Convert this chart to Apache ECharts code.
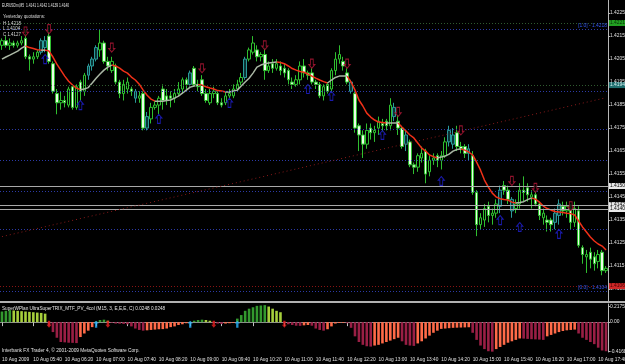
<!DOCTYPE html>
<html><head><meta charset="utf-8">
<script src="https://cdn.jsdelivr.net/npm/echarts@6/dist/echarts.min.js"></script>
<style>html,body{margin:0;padding:0;background:#000;overflow:hidden}#c{width:625px;height:364px}</style>
</head><body><div id="c"></div>
<script>
// ---------- DATA ----------
const times = [];
for (let i = 0; i < 155; i++) { const m = 300 + 5 * i; times.push(String(Math.floor(m / 60)).padStart(2, '0') + ':' + String(m % 60).padStart(2, '0')); }

const open  = [1.4211,1.4213,1.4211,1.4212,1.4211,1.4212,1.4214,1.4206,1.4205,1.4206,1.4208,1.4213,1.4215,1.4203,1.4190,1.4186,1.4187,1.4185,1.4193,1.4184,1.4195,1.4191,1.4198,1.4202,1.4205,1.4209,1.4212,1.4204,1.4200,1.4202,1.4195,1.4190,1.4192,1.4192,1.4191,1.4188,1.4190,1.4175,1.4179,1.4184,1.4185,1.4192,1.4189,1.4189,1.4188,1.4190,1.4192,1.4196,1.4194,1.4201,1.4194,1.4196,1.4190,1.4186,1.4190,1.4190,1.4186,1.4186,1.4189,1.4189,1.4192,1.4195,1.4197,1.4205,1.4208,1.4209,1.4206,1.4207,1.4200,1.4203,1.4201,1.4202,1.4201,1.4200,1.4195,1.4194,1.4196,1.4202,1.4199,1.4199,1.4195,1.4194,1.4189,1.4194,1.4192,1.4200,1.4205,1.4204,1.4199,1.4195,1.4190,1.4176,1.4172,1.4168,1.4175,1.4173,1.4175,1.4177,1.4178,1.4176,1.4184,1.4178,1.4175,1.4168,1.4169,1.4159,1.4158,1.4162,1.4165,1.4156,1.4161,1.4163,1.4161,1.4163,1.4169,1.4172,1.4173,1.4167,1.4167,1.4164,1.4163,1.4147,1.4133,1.4135,1.4141,1.4137,1.4138,1.4141,1.4150,1.4148,1.4144,1.4140,1.4142,1.4148,1.4149,1.4145,1.4146,1.4142,1.4136,1.4135,1.4135,1.4134,1.4137,1.4141,1.4139,1.4140,1.4134,1.4139,1.4123,1.4119,1.4121,1.4119,1.4117,1.4121,1.4113];
const close = [1.4213,1.4211,1.4212,1.4211,1.4212,1.4213,1.4206,1.4205,1.4206,1.4208,1.4213,1.4210,1.4204,1.4191,1.4186,1.4187,1.4186,1.4192,1.4184,1.4193,1.4191,1.4198,1.4202,1.4205,1.4210,1.4212,1.4204,1.4202,1.4204,1.4195,1.4190,1.4194,1.4195,1.4191,1.4188,1.4189,1.4175,1.4180,1.4184,1.4185,1.4188,1.4187,1.4187,1.4188,1.4190,1.4192,1.4196,1.4194,1.4199,1.4194,1.4193,1.4190,1.4187,1.4190,1.4191,1.4186,1.4185,1.4189,1.4190,1.4192,1.4194,1.4197,1.4205,1.4209,1.4212,1.4206,1.4207,1.4200,1.4202,1.4201,1.4203,1.4200,1.4199,1.4196,1.4194,1.4196,1.4202,1.4199,1.4198,1.4195,1.4194,1.4189,1.4193,1.4191,1.4200,1.4205,1.4207,1.4202,1.4195,1.4191,1.4175,1.4172,1.4168,1.4174,1.4173,1.4174,1.4178,1.4176,1.4176,1.4185,1.4180,1.4175,1.4167,1.4172,1.4159,1.4158,1.4163,1.4164,1.4155,1.4161,1.4162,1.4161,1.4163,1.4169,1.4174,1.4168,1.4167,1.4166,1.4164,1.4166,1.4147,1.4133,1.4136,1.4140,1.4137,1.4138,1.4142,1.4148,1.4148,1.4144,1.4139,1.4142,1.4148,1.4147,1.4146,1.4146,1.4142,1.4137,1.4138,1.4134,1.4133,1.4138,1.4142,1.4139,1.4141,1.4134,1.4140,1.4124,1.4120,1.4120,1.4118,1.4116,1.4120,1.4113,1.4114];
const low   = [1.4209,1.4210,1.4209,1.4210,1.4210,1.4211,1.4205,1.4200,1.4203,1.4205,1.4207,1.4208,1.4203,1.4190,1.4181,1.4183,1.4184,1.4184,1.4183,1.4183,1.4187,1.4189,1.4196,1.4200,1.4204,1.4206,1.4203,1.4200,1.4199,1.4194,1.4188,1.4187,1.4190,1.4189,1.4186,1.4186,1.4174,1.4174,1.4177,1.4183,1.4181,1.4183,1.4185,1.4184,1.4186,1.4189,1.4190,1.4192,1.4193,1.4193,1.4191,1.4189,1.4186,1.4185,1.4188,1.4185,1.4184,1.4185,1.4188,1.4188,1.4191,1.4193,1.4196,1.4204,1.4207,1.4204,1.4204,1.4196,1.4199,1.4199,1.4200,1.4198,1.4197,1.4194,1.4192,1.4193,1.4194,1.4197,1.4196,1.4194,1.4192,1.4188,1.4187,1.4190,1.4190,1.4198,1.4203,1.4200,1.4194,1.4190,1.4173,1.4165,1.4162,1.4166,1.4170,1.4169,1.4172,1.4173,1.4174,1.4174,1.4178,1.4172,1.4166,1.4165,1.4158,1.4155,1.4156,1.4160,1.4151,1.4154,1.4159,1.4158,1.4157,1.4162,1.4167,1.4166,1.4165,1.4164,1.4162,1.4161,1.4146,1.4128,1.4131,1.4132,1.4134,1.4133,1.4136,1.4138,1.4146,1.4142,1.4136,1.4138,1.4140,1.4143,1.4143,1.4140,1.4141,1.4135,1.4133,1.4130,1.4130,1.4131,1.4133,1.4137,1.4136,1.4131,1.4132,1.4123,1.4116,1.4112,1.4114,1.4113,1.4114,1.4111,1.4112];
const high  = [1.4214,1.4215,1.4214,1.4213,1.4213,1.4215,1.4218,1.4207,1.4208,1.4209,1.4214,1.4215,1.4219,1.4204,1.4192,1.4191,1.4189,1.4193,1.4194,1.4194,1.4196,1.4199,1.4203,1.4206,1.4211,1.4218,1.4213,1.4206,1.4206,1.4203,1.4196,1.4196,1.4197,1.4193,1.4192,1.4191,1.4191,1.4182,1.4186,1.4187,1.4189,1.4194,1.4192,1.4191,1.4192,1.4195,1.4197,1.4197,1.4200,1.4202,1.4196,1.4198,1.4192,1.4192,1.4193,1.4191,1.4188,1.4191,1.4192,1.4194,1.4196,1.4199,1.4206,1.4210,1.4215,1.4211,1.4208,1.4210,1.4204,1.4205,1.4205,1.4204,1.4203,1.4201,1.4197,1.4198,1.4204,1.4205,1.4200,1.4201,1.4196,1.4195,1.4194,1.4195,1.4201,1.4208,1.4211,1.4206,1.4201,1.4196,1.4191,1.4177,1.4174,1.4177,1.4177,1.4176,1.4180,1.4179,1.4179,1.4188,1.4186,1.4181,1.4176,1.4174,1.4170,1.4160,1.4164,1.4167,1.4166,1.4163,1.4164,1.4164,1.4165,1.4171,1.4176,1.4175,1.4176,1.4169,1.4168,1.4168,1.4165,1.4148,1.4138,1.4142,1.4143,1.4140,1.4144,1.4150,1.4152,1.4150,1.4145,1.4144,1.4151,1.4154,1.4151,1.4148,1.4148,1.4143,1.4140,1.4137,1.4136,1.4140,1.4144,1.4143,1.4143,1.4142,1.4143,1.4141,1.4124,1.4122,1.4123,1.4121,1.4122,1.4122,1.4115];
const tealBars = [10,11,22,23,24,34,37,48,62,89,100,103,114,115,119,127,130,141,142];

const maValues = [1.42050,1.42059,1.42067,1.42076,1.42085,1.42098,1.42107,1.42100,1.42096,1.42091,1.42089,1.42089,1.42085,1.42059,1.42028,1.42002,1.41976,1.41954,1.41937,1.41924,1.41917,1.41920,1.41926,1.41946,1.41967,1.41985,1.42002,1.42015,1.42024,1.42020,1.42011,1.41998,1.41989,1.41972,1.41959,1.41941,1.41915,1.41893,1.41876,1.41867,1.41867,1.41867,1.41870,1.41872,1.41880,1.41889,1.41902,1.41915,1.41928,1.41933,1.41939,1.41937,1.41930,1.41924,1.41920,1.41913,1.41911,1.41907,1.41907,1.41911,1.41915,1.41933,1.41950,1.41967,1.41989,1.42015,1.42024,1.42030,1.42033,1.42035,1.42037,1.42035,1.42030,1.42020,1.42009,1.42002,1.41996,1.41993,1.41985,1.41976,1.41967,1.41959,1.41952,1.41946,1.41959,1.41970,1.41976,1.41976,1.41976,1.41950,1.41915,1.41872,1.41846,1.41815,1.41798,1.41785,1.41776,1.41774,1.41772,1.41772,1.41772,1.41772,1.41754,1.41737,1.41720,1.41707,1.41685,1.41663,1.41650,1.41633,1.41626,1.41620,1.41624,1.41628,1.41637,1.41650,1.41657,1.41659,1.41654,1.41646,1.41633,1.41602,1.41567,1.41524,1.41493,1.41467,1.41450,1.41443,1.41439,1.41437,1.41428,1.41424,1.41426,1.41430,1.41439,1.41446,1.41441,1.41428,1.41411,1.41400,1.41393,1.41387,1.41385,1.41383,1.41380,1.41378,1.41372,1.41346,1.41320,1.41298,1.41276,1.41259,1.41246,1.41237,1.41220];

const trixHist = [0.15,0.16,0.17,0.165,0.16,0.155,0.15,0.145,0.14,0.135,0.13,0.12,
 -0.05,-0.14,-0.22,-0.28,-0.285,-0.29,-0.292,-0.295,-0.21,-0.16,-0.12,-0.07,
 0.01,0.03,0.035,0.02,
 -0.01,-0.02,-0.022,-0.025,-0.03,-0.06,-0.09,-0.11,-0.12,-0.115,-0.11,-0.105,-0.1,-0.098,-0.09,-0.07,-0.06,-0.04,-0.03,-0.015,
 0.005,0.02,0.03,0.035,0.03,0.02,
 -0.01,-0.02,-0.025,-0.02,-0.015,-0.01,
 0.05,0.1,0.16,0.19,0.21,0.23,0.235,0.24,0.22,0.19,0.16,0.14,
 -0.01,-0.03,-0.04,-0.05,-0.052,-0.045,-0.04,
 -0.05,-0.09,-0.11,-0.12,-0.1,-0.06,-0.02,-0.012,-0.01,-0.015,
 -0.08,-0.2,-0.28,-0.32,-0.34,-0.345,-0.33,-0.32,-0.3,-0.28,-0.26,-0.24,-0.22,
 -0.27,-0.32,-0.33,-0.335,-0.3,-0.27,-0.23,-0.19,-0.15,-0.12,
 -0.095,-0.09,-0.085,-0.08,-0.078,-0.076,-0.074,-0.072,
 -0.15,-0.25,-0.33,-0.38,-0.41,-0.416,
 -0.38,-0.35,-0.32,-0.29,-0.27,-0.25,-0.23,
 -0.232,-0.236,-0.24,-0.243,-0.246,-0.25,
 -0.2,-0.18,-0.16,-0.14,-0.125,-0.115,-0.11,-0.105,
 -0.16,-0.22,-0.25,-0.28,-0.31,-0.36,-0.40,-0.41];

const sellArrows = [[6,1.4217],[12,1.4218],[28,1.4210],[51,1.4201],[67,1.4211],[79,1.4203],[88,1.4203],[101,1.4182],[117,1.4174],[130,1.4152],[136,1.4149],[145,1.4141]];
const buyArrows  = [[11,1.4205],[20,1.4185],[40,1.4179],[58,1.4186],[78,1.4192],[84,1.4189],[97,1.4172],[112,1.4152],[127,1.4135],[132,1.4132],[142,1.4129]];
const trixDown = [12,27,54,72];
const trixUp   = [24,48,60];

const priceTicks = [1.4105,1.4115,1.4125,1.4135,1.4145,1.4155,1.4165,1.4175,1.4185,1.4195,1.4205,1.4215,1.4225];
const trixTicks = [0.2175, 0, -0.4168];
const fibPrices = [1.4104,1.41309,1.41475,1.4161,1.41745,1.41911,1.4218];
const fibTexts  = ['[0.0] - 1.4104','','','','','','[1.0] - 1.4218'];
const greenLines = [1.42207, 1.41937];
const greenTexts = ['1.4221', '1.4194'];
const greyLines = [1.41498, 1.41415, 1.41398];
const greyTexts = ['1.4150', '1.4142', '1.4140'];
const bidLine = 1.41063, bidText = '1.4106';
const trendStart = [0, 1.41278], trendEnd = [154, 1.41882];

// ---------- CHART ----------
const FONT = "'Liberation Sans',Arial,sans-serif";
const N = times.length;
const tealStyle = {color:'#0a3434', color0:'#2a7a7a', borderColor:'#2a9a9a', borderColor0:'#2a9a9a'};
const candleData = open.map((o, i) => {
  const it = {value: [o, close[i], low[i], high[i]]};
  if (tealBars.indexOf(i) >= 0) it.itemStyle = tealStyle;
  return it;
});
const maGrey = maValues.map((v, i) => {
  const a = i > 0 && maValues[i] >= maValues[i - 1];
  const b = i < N - 1 && maValues[i + 1] >= maValues[i];
  return (a || b) ? v : null;
});
const maRed = maValues.map((v, i) => {
  const a = i > 0 && maValues[i] < maValues[i - 1];
  const b = i < N - 1 && maValues[i + 1] < maValues[i];
  return (a || b) ? v : null;
});

const boxLabel = (txt, bg, fg) => ({show:true, position:'end', formatter:txt, backgroundColor:bg, color:fg, fontSize:4.9, fontFamily:FONT, padding:[1,2,0,1], distance:1});
const markData = [];
fibPrices.forEach((p, k) => markData.push({yAxis:p, lineStyle:{color:'#2c3aa6', type:[1,2], width:1},
  label: fibTexts[k] ? {show:true, position:'insideEndTop', formatter:fibTexts[k], color:'#3458f0', fontSize:4.9, fontFamily:FONT, distance:1} : {show:false}}));
greenLines.forEach((p, k) => markData.push({yAxis:p, lineStyle:{color:'#2f5a2f', type:[1,2], width:1},
  label: boxLabel(greenTexts[k], k === 0 ? '#22a022' : '#1f6f6f', k === 0 ? '#063006' : '#d8f0f0')}));
greyLines.forEach((p, k) => markData.push({yAxis:p, lineStyle:{color:'#a8a8a8', type:'solid', width:1},
  label: boxLabel(greyTexts[k], '#e8e8e8', '#000')}));
markData.push({yAxis:bidLine, lineStyle:{color:'#8a1414', type:[1,2], width:1}, label: boxLabel(bidText, '#d02828', '#400000')});
markData.push([{coord:[trendStart[0], trendStart[1]], lineStyle:{color:'#8a1a1a', type:[1,3], width:1}, label:{show:false}}, {coord:[trendEnd[0], trendEnd[1]]}]);

const upPath = 'path://M3,0 L6,4 L4.4,4 L4.4,10 L1.6,10 L1.6,4 L0,4 Z';
const downPath = 'path://M3,10 L6,6 L4.4,6 L4.4,0 L1.6,0 L1.6,6 L0,6 Z';
const txt = (x, y, s, size, sx, fill) => ({type:'text', x:x, y:y, scaleX:sx, z:10, silent:true,
  style:{text:s, fill:fill || '#e4e4e4', font:size + 'px ' + FONT, textVerticalAlign:'top'}});

const option = {
  backgroundColor:'#000',
  animation:false,
  textStyle:{fontFamily:FONT},
  grid:[
    {left:0, top:0, width:608, height:301, outerBoundsMode:'none', containLabel:false},
    {left:0, top:304, width:608, height:48, outerBoundsMode:'none', containLabel:false}
  ],
  xAxis:[
    {type:'category', data:times, gridIndex:0, boundaryGap:true, show:false},
    {type:'category', data:times, gridIndex:1, boundaryGap:true,
      axisLine:{show:true, lineStyle:{color:'#909090'}},
      axisTick:{show:true, length:4, alignWithLabel:true, interval:(i) => i % 8 === 0, lineStyle:{color:'#c0c0c0'}},
      axisLabel:{show:true, interval:(i) => i % 8 === 0, align:'left', margin:5, color:'#e0e0e0', fontSize:4.8, fontFamily:FONT,
        formatter:(v, i) => i === 0 ? '10 Aug 2009' : '10 Aug ' + v},
      splitLine:{show:false}}
  ],
  yAxis:[
    {type:'value', gridIndex:0, position:'right', min:1.40998, max:1.42307,
      axisLine:{show:true, lineStyle:{color:'#b8b8b8'}},
      axisTick:{show:true, length:2, customValues:priceTicks, lineStyle:{color:'#b8b8b8'}},
      axisLabel:{show:true, customValues:priceTicks, margin:2, color:'#e0e0e0', fontSize:4.9, fontFamily:FONT, formatter:(v) => v.toFixed(4)},
      splitLine:{show:false}},
    {type:'value', gridIndex:1, position:'right', min:-0.421, max:0.256,
      axisLine:{show:true, lineStyle:{color:'#b8b8b8'}},
      axisTick:{show:true, length:2, customValues:trixTicks, lineStyle:{color:'#b8b8b8'}},
      axisLabel:{show:true, customValues:trixTicks, margin:2, color:'#e0e0e0', fontSize:4.9, fontFamily:FONT, formatter:(v) => v === 0 ? '0.00' : v.toFixed(4)},
      splitLine:{show:false}}
  ],
  series:[
    {type:'line', xAxisIndex:0, yAxisIndex:0, data:[], showSymbol:false, z:2,
      markLine:{silent:true, symbol:['none','none'], animation:false, precision:5, data:markData}},
    {type:'candlestick', xAxisIndex:0, yAxisIndex:0, data:candleData, barWidth:3, z:3,
      itemStyle:{color:'#000', color0:'#eafde6', borderColor:'#2fbf2f', borderColor0:'#2fbf2f', borderWidth:1}},
    {type:'line', xAxisIndex:0, yAxisIndex:0, data:maRed, showSymbol:false, connectNulls:false, z:4,
      lineStyle:{color:'#f03018', width:1.5}},
    {type:'line', xAxisIndex:0, yAxisIndex:0, data:maGrey, showSymbol:false, connectNulls:false, z:4,
      lineStyle:{color:'#a9b6a4', width:1.5}},
    {type:'scatter', xAxisIndex:0, yAxisIndex:0, data:sellArrows, symbol:downPath, symbolSize:[6,9], z:5,
      itemStyle:{color:'#000', borderColor:'#b81838', borderWidth:1}},
    {type:'scatter', xAxisIndex:0, yAxisIndex:0, data:buyArrows, symbol:upPath, symbolSize:[6,9], z:5,
      itemStyle:{color:'#000', borderColor:'#2020d8', borderWidth:1}},
    {type:'bar', xAxisIndex:1, yAxisIndex:1, data:trixHist, barWidth:2.6, z:3,
      itemStyle:{color:(p) => {
        const i = p.dataIndex, v = trixHist[i], prev = i > 0 ? trixHist[i - 1] : v - 1;
        if (v >= 0) return v >= prev ? '#33992e' : '#a6cf3c';
        return v < prev ? '#9a1f45' : '#ff6a48';
      }}},
    {type:'scatter', xAxisIndex:1, yAxisIndex:1, data:trixDown.map(i => [i, 0]), symbol:downPath, symbolSize:[5,7], symbolOffset:[0,2], z:6,
      itemStyle:{color:'#e82020'}},
    {type:'scatter', xAxisIndex:1, yAxisIndex:1, data:trixUp.map(i => [i, 0]), symbol:upPath, symbolSize:[5,7], symbolOffset:[0,2], z:6,
      itemStyle:{color:'#28b4ff'}}
  ],
  graphic:[
    {type:'rect', x:0, y:301, shape:{width:625, height:2}, style:{fill:'#b0b0b0'}, z:10, silent:true},
    txt(2, 2, 'EURUSDm,M5  1.4141 1.4142 1.4139 1.4140', 5.5, 0.6),
    txt(3, 13, 'Yesterday quotations:', 5.5, 0.8, '#d8d8d8'),
    txt(3, 20, 'H 1.4218', 5.5, 0.8, '#d8d8d8'),
    txt(3, 25.5, 'L 1.4104', 5.5, 0.8, '#d8d8d8'),
    txt(3, 31.5, 'C 1.4127', 5.5, 0.8, '#d8d8d8'),
    txt(2, 305.5, 'SuperWPlan UltraSuperTRIX_MTF_PV_4col (M15, 3, E,E,E, C) 0.0248 0.0248', 5.5, 0.85),
    txt(2, 347.5, 'Interbank FX Trader 4, \u00a9 2001-2009 MetaQuotes Software Corp.', 5.5, 0.87)
  ]
};
const chart = echarts.init(document.getElementById('c'));
chart.setOption(option);
</script>
</body></html>
